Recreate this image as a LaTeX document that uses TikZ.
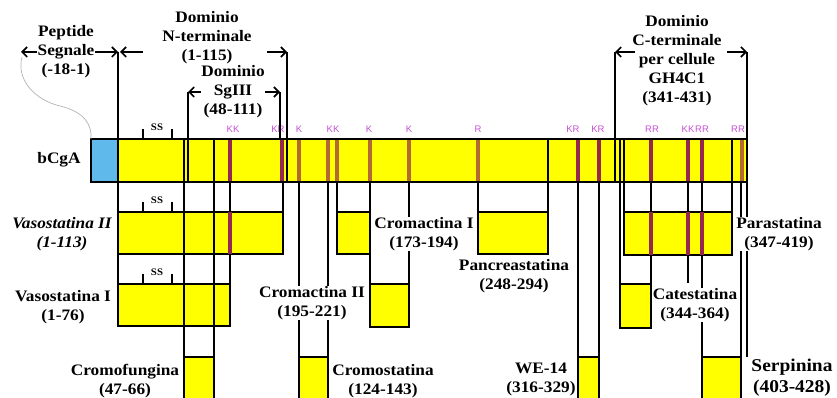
\documentclass[tikz,border=0pt]{standalone}
\usepackage{fontspec}
\setmainfont{Liberation Serif}[FakeStretch=1.08]
\setsansfont{Liberation Sans}
\usepackage{xcolor}
\usetikzlibrary{arrows.meta, positioning, calc}

\definecolor{cgyellow}{RGB}{255,255,0}
\definecolor{cgblue}{RGB}{95,185,235}
\definecolor{pairsite}{RGB}{150,40,80}
\definecolor{onesite}{RGB}{180,105,50}
\definecolor{sitetext}{RGB}{195,80,210}

\begin{document}
\begin{tikzpicture}[x=1pt, y=-1pt,
    seg/.style={draw=black, line width=1.8pt, fill=cgyellow},
    link/.style={line width=1.3pt},
    lbl/.style={font=\fontsize{16}{19}\selectfont\bfseries, align=center, fill=white, inner sep=0.5pt},
    dom/.style={lbl, fill=none},
    site/.style={font=\fontsize{9.5}{9.5}\selectfont\sffamily, text=sitetext, inner sep=0pt},
    sstag/.style={font=\fontsize{10}{10}\selectfont\bfseries, inner sep=0pt},
    dimarrow/.style={-{Straight Barb[length=5pt, width=10pt]}, line width=1.6pt}]

\useasboundingbox (0,0) rectangle (837,398);

% Stripe macro
% Arguments: x, top, bottom, colour
\def\stripe#1#2#3#4{\fill[#4] (#1-2,#2) rectangle (#1+2,#3);}

% Cut line macro
% Arguments: x, top, bottom
\def\cut#1#2#3{\draw[link] (#1,#2) -- (#1,#3);}

% Bar edges
\coordinate (barT) at (0,139);
\coordinate (barB) at (0,182);

% Peptides, row 1
\draw[seg] (118,212) rectangle (283,254);   % Vasostatina II
\draw[seg] (337,212) rectangle (370,254);   % Cromactina I
\draw[seg] (478,212) rectangle (548,254);   % Pancreastatina
\draw[seg] (624,212) rectangle (732,255);   % Parastatina
% row 2
\draw[seg] (118,284) rectangle (230,326);   % Vasostatina I
\draw[seg] (370,284) rectangle (409,327);   % Cromactina II
\draw[seg] (620,284) rectangle (651,328);   % Catestatina
% row 3
\draw[seg] (184,357) rectangle (214,404);   % Cromofungina
\draw[seg] (299,357) rectangle (328,404);   % Cromostatina
\draw[seg] (578,357) rectangle (599,404);   % WE-14
\draw[seg] (702,357) rectangle (741,404);   % Serpinina

% Links from the bar down to the peptides
\foreach \x/\yb in {118/284, 184/357, 214/357, 230/284, 283/212, 299/357, 328/357,
                    337/212, 370/284, 409/284, 478/212, 548/212, 578/357, 599/357,
                    620/284, 624/212, 651/284, 688/283, 702/357, 732/212, 741/357, 747/357}
    {\cut{\x}{182}{\yb}}

% Sites kept in the peptides
\stripe{230}{212}{254}{pairsite}
\foreach \x in {651, 688, 702}
    {\stripe{\x}{212}{255}{pairsite}}

% bCgA bar
\fill[cgyellow] (91,139) rectangle (747,182);
\fill[cgblue] (91,139) rectangle (118,182);
\foreach \x/\c in {230/pairsite, 282/pairsite, 299/onesite, 328/onesite, 337/onesite,
                   370/onesite, 409/onesite, 478/onesite, 578/pairsite, 599/pairsite,
                   651/pairsite, 688/pairsite, 702/pairsite, 742/onesite}
    {\stripe{\x}{139}{182}{\c}}
\foreach \x in {118, 184, 188, 214, 287, 548, 615, 620, 624, 732}
    {\cut{\x}{139}{182}}
\draw[line width=1.8pt] (91,139) rectangle (747,182);

% Site labels
\foreach \x/\t in {233/KK, 278/KR, 299/K, 333/KK, 369/K, 409/K, 478/R,
                   573/KR, 598/KR, 652/RR, 688/KK, 702/RR, 738/RR}
    \node[site] (site-\x) at (\x,129) {\t};

% Disulfide bridge
\foreach \y/\n in {139/bar, 212/vii, 284/vi} {
    \draw[link] (143,\y) -- ++(0,-10);
    \draw[link] (172,\y) -- ++(0,-10);
    \node[sstag] (ss-\n) at (157,\y-12) {SS};
}

% Peptide labels
\node[lbl] (cga) at (59,160) {bCgA};
\node[lbl, font=\fontsize{16}{19}\selectfont\bfseries\itshape] (vaso2) at (62,234) {Vasostatina II\\(1-113)};
\node[lbl] (vaso1) at (63,307) {Vasostatina I\\(1-76)};
\node[lbl] (fungina) at (125,381) {Cromofungina\\(47-66)};
\node[lbl] (actina1) at (424,234) {Cromactina I\\(173-194)};
\node[lbl] (actina2) at (312,303) {Cromactina II\\(195-221)};
\node[lbl] (costatina) at (383,381) {Cromostatina\\(124-143)};
\node[lbl] (pancreas) at (514,276) {Pancreastatina\\(248-294)};
\node[lbl] (we14) at (541,379) {WE-14\\(316-329)};
\node[lbl] (parast) at (779,234) {Parastatina\\(347-419)};
\node[lbl] (catest) at (695,305) {Catestatina\\(344-364)};
\node[lbl, font=\fontsize{18}{21}\selectfont\bfseries] (serpin) at (792,378) {Serpinina\\(403-428)};

% Domains
\node[dom] (sigpep) at (66,52) {Peptide\\Segnale\\(-18-1)};
\node[dom] (ntdom) at (207,38) {Dominio\\N-terminale\\(1-115)};
\node[dom] (sgdom) at (233,92) {Dominio\\SgIII\\(48-111)};
\node[dom] (ctdom) at (677,61) {Dominio\\C-terminale\\per cellule\\GH4C1\\(341-431)};

\coordinate (sigL) at (21,52);
\coordinate (sigR) at (118,52);
\coordinate (ntR) at (287,52);
\coordinate (sgL) at (188,92);
\coordinate (sgR) at (280,92);
\coordinate (ctL) at (615,52);
\coordinate (ctR) at (747,52);

\foreach \c in {sigR, ntR, sgL, sgR, ctL, ctR}
    {\draw[link] (\c) -- (\c |- barT);}

\draw[dimarrow] (sigpep.west) -- (sigL);
\draw[dimarrow] (sigpep.east) -- (sigR);
\draw[dimarrow] ($(sigR)+(25,0)$) -- ($(sigR)+(2,0)$);
\draw[dimarrow] ($(ntR)+(-20,0)$) -- (ntR);
\draw[dimarrow] (sgdom.west) -- (sgL);
\draw[dimarrow] (sgdom.east) -- (sgR);
\draw[dimarrow] ($(ctL)+(20,0)$) -- (ctL);
\draw[dimarrow] ($(ctR)+(-20,0)$) -- (ctR);

% Signal peptide pointer
\draw[black!30, line width=0.7pt] ($(sigL)+(1,5)$) .. controls (16,80) and (35,100) .. (60,106)
    .. controls (85,112) and (92,125) .. (91,139);

\end{tikzpicture}
\end{document}
